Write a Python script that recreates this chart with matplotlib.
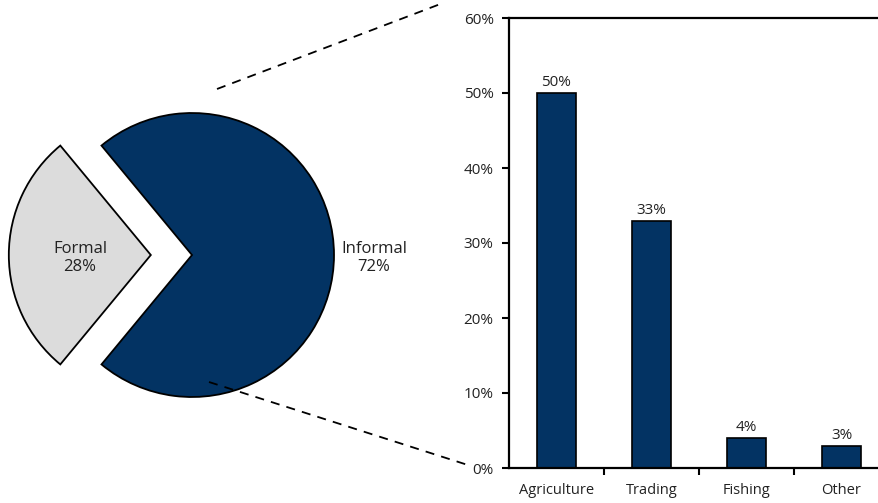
import matplotlib
matplotlib.use("Agg")
import matplotlib.pyplot as plt
from matplotlib.ticker import FixedLocator, FuncFormatter

plt.rcParams['font.family'] = ['Open Sans', 'DejaVu Sans']

# Data
pie_labels = ["Informal", "Formal"]
pie_values = [72, 28]
pie_colors = ["#033363", "#DCDCDC"]

bar_categories = ["Agriculture", "Trading", "Fishing", "Other"]
bar_values = [50, 33, 4, 3]
bar_color = "#033363"
y_ticks = [0, 10, 20, 30, 40, 50, 60]

W, H = 879, 503
fig = plt.figure(figsize=(W / 100, H / 100), dpi=100)

# Pie axes: 1 data unit = 142 px, centre at pixel (192, 248 from bottom)
cx, cy, R = 192, 248, 142
pw = 440
axp = fig.add_axes([0, 0, pw / W, 1])
axp.pie(pie_values, colors=pie_colors, startangle=230.4, counterclock=True,
        radius=1, explode=[0, 0.29], labels=None,
        wedgeprops=dict(edgecolor='black', linewidth=1.3))
axp.set_aspect('auto')
axp.set_xlim(-cx / R, (pw - cx) / R)
axp.set_ylim(-cy / R, (H - cy) / R)
axp.axis('off')

axp.text((80 - cx) / R, -3 / R, f"{pie_labels[1]}\n{pie_values[1]}%", ha='center', va='center',
         fontsize=12, color='#222222', linespacing=1.15)
axp.text((374 - cx) / R, -3 / R, f"{pie_labels[0]}\n{pie_values[0]}%", ha='center', va='center',
         fontsize=12, color='#222222', linespacing=1.15)

# Overlay for dashed connector lines (pixel coordinates)
axo = fig.add_axes([0, 0, 1, 1], zorder=5)
axo.set_xlim(0, W)
axo.set_ylim(0, H)
axo.axis('off')
axo.patch.set_alpha(0)
axo.plot([217, 443], [414, 500], ls=(0, (5, 4)), color='black', lw=1.3)
axo.plot([209, 471], [121, 37], ls=(0, (5, 4)), color='black', lw=1.3)

# Bar axes
left = 509 / W
bottom = (H - 468) / H
height = (468 - 18) / H
width = 380 / W
axb = fig.add_axes([left, bottom, width, height])
x = list(range(len(bar_categories)))
bars = axb.bar(x, bar_values, width=0.41, color=bar_color, edgecolor='black', linewidth=1.2)
axb.bar_label(bars, labels=[f"{v}%" for v in bar_values], padding=2, fontsize=11, color='#222222')
axb.set_xlim(-0.5, 3.5)
axb.set_ylim(0, 60)
axb.yaxis.set_major_locator(FixedLocator(y_ticks))
axb.yaxis.set_major_formatter(FuncFormatter(lambda v, p: f"{v:.0f}%"))
axb.set_xticks(x)
axb.set_xticklabels(bar_categories, fontsize=10.5, color='#222222')
axb.set_xticks([0.5, 1.5, 2.5], minor=True)
axb.tick_params(axis='x', which='major', length=0, pad=11)
axb.tick_params(axis='x', which='minor', length=5, width=1.5, direction='out')
axb.tick_params(axis='y', length=5, width=1.5, direction='out', labelsize=11, labelcolor='#222222', pad=6)
for s in ['left', 'bottom', 'top']:
    axb.spines[s].set_linewidth(1.6)
axb.spines['right'].set_visible(False)

fig.savefig("out.png", dpi=100)
